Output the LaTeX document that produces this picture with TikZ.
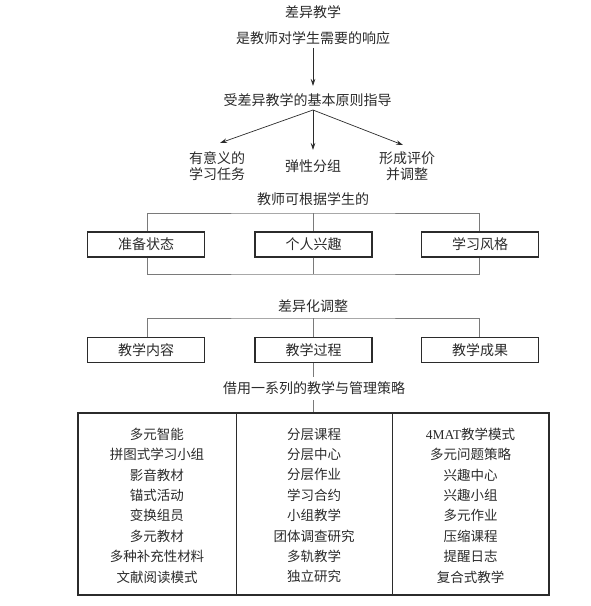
\documentclass[tikz,border=0pt]{standalone}
\usepackage{fontspec}
\setmainfont{Noto Sans CJK SC}
\newfontfamily\lat{Liberation Serif}
\usetikzlibrary{arrows.meta}
\definecolor{txt}{HTML}{2B2B2B}
\definecolor{ln}{HTML}{7A7A7A}
\begin{document}
\begin{tikzpicture}[x=1pt,y=-1pt,
  every node/.style={text=txt, inner sep=0pt, font=\fontsize{14}{16}\selectfont},
  lbl/.style={align=center},
  boxst/.style={draw=txt, line width=1.4pt, fill=white, minimum width=117pt, minimum height=25pt},
  br/.style={draw=ln, line width=0.8pt},
  arr/.style={draw=txt, line width=0.7pt, -{Stealth[length=7pt,width=4.5pt]}},
  tabst/.style={draw=txt, line width=1.4pt, minimum width=471pt, minimum height=182pt},
  coltxt/.style={align=center, font=\fontsize{13.5}{20.4}\selectfont},
  div/.style={draw=txt, line width=0.8pt}]
\useasboundingbox (0,0) rectangle (591,606);

% top texts
\node[lbl] (t1) at (313,12) {差异教学};
\node[lbl] (t2) at (313,38) {是教师对学生需要的响应};
\node[lbl] (t3) at (307.5,100) {受差异教学的基本原则指导};
\draw[arr] (t2.south -| 313,0) ++(0,3) -- (313,86);

% fork
\coordinate (fork) at (313,110);
\coordinate (tipL) at (220,143);
\coordinate (tipM) at (313,150);
\coordinate (tipR) at (403,145);
\draw[arr] (fork) -- (tipL);
\draw[arr] (fork) -- (tipM);
\draw[arr] (fork) -- (tipR);

\node[lbl] (l1) at (217,166) {有意义的\\学习任务};
\node[lbl] (l2) at (313,166) {弹性分组};
\node[lbl] (l3) at (407,166) {形成评价\\并调整};

% group 1
\node[lbl] (t4) at (313,199) {教师可根据学生的};
\coordinate (j1) at (313,213);
\coordinate (j2) at (313,274);
\node[boxst] (bA) at (146,244.5) {准备状态};
\node[boxst] (bB) at (313.5,244.5) {个人兴趣};
\node[boxst] (bC) at (480,244.5) {学习风格};
\draw[br] (bA.north -| 147,0) |- (j1) -| (bC.north -| 479,0);
\draw[br] (j1) -- (bB.north -| j1);
\draw[br] (bA.south -| 147,0) |- (j2) -| (bC.south -| 479,0);
\draw[br] (bB.south -| j2) -- (j2);

% group 2
\node[lbl] (t5) at (313,306) {差异化调整};
\coordinate (k1) at (313,318);
\node[boxst] (cA) at (146,350) {教学内容};
\node[boxst] (cB) at (313.5,350) {教学过程};
\node[boxst] (cC) at (480,350) {教学成果};
\draw[br] (cA.north -| 147,0) |- (k1) -| (cC.north -| 479,0);
\draw[br] (k1) -- (cB.north -| k1);
\coordinate (k2) at (313,377);
\draw[br] (cB.south -| k2) -- (k2);
\node[lbl] (t6) at (314,388) {借用一系列的教学与管理策略};
\coordinate (k3) at (313,400);

% table
\node[tabst] (tab) at (313.5,504) {};
\draw[br] (k3) -- (tab.north -| k3);
\coordinate (d1t) at (236,413);
\coordinate (d1b) at (236,595);
\coordinate (d2t) at (392,413);
\coordinate (d2b) at (392,595);
\draw[div] (d1t) -- (d1b);
\draw[div] (d2t) -- (d2b);

\node[coltxt] (c1) at (157,505.5) {多元智能\\拼图式学习小组\\影音教材\\锚式活动\\变换组员\\多元教材\\多种补充性材料\\文献阅读模式};
\node[coltxt] (c2) at (314,505.5) {分层课程\\分层中心\\分层作业\\学习合约\\小组教学\\团体调查研究\\多轨教学\\独立研究};
\node[coltxt] (c3) at (470.5,505.5) {{\lat 4MAT}教学模式\\多元问题策略\\兴趣中心\\兴趣小组\\多元作业\\压缩课程\\提醒日志\\复合式教学};
\end{tikzpicture}
\end{document}
